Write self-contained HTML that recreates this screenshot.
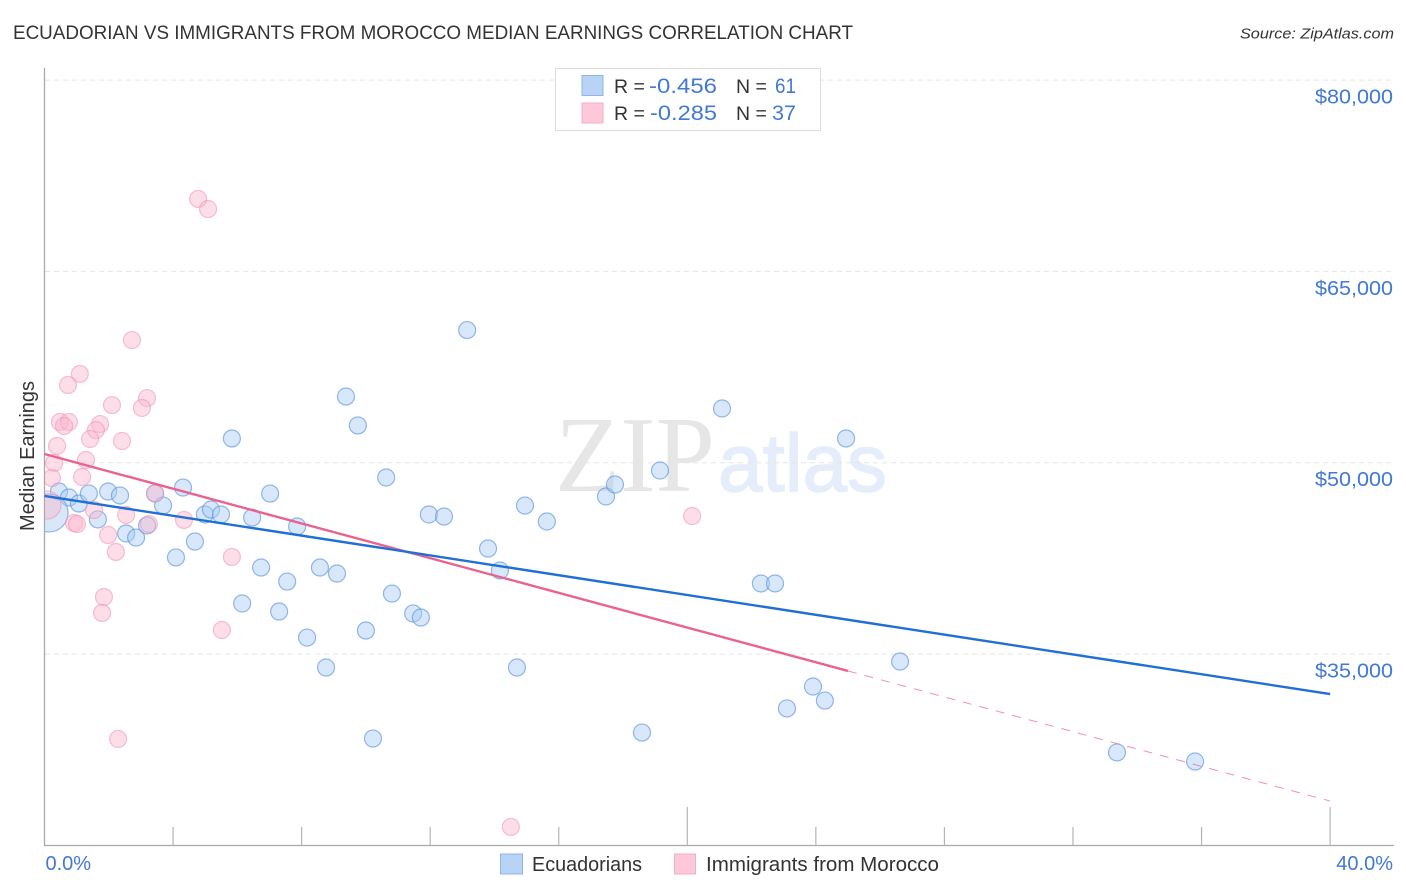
<!DOCTYPE html>
<html lang="en">
<head>
<meta charset="utf-8">
<title>Ecuadorian vs Immigrants from Morocco Median Earnings Correlation Chart</title>
<style>
html,body{margin:0;padding:0;background:#fff;width:1406px;height:892px;overflow:hidden}
svg{display:block;font-family:"Liberation Sans",sans-serif}
</style>
</head>
<body>
<svg id="chart" xmlns="http://www.w3.org/2000/svg" width="1406" height="892" viewBox="0 0 1406 892">
  <defs><clipPath id="plot-clip"><rect x="45" y="60" width="1350" height="785"/></clipPath></defs>
  <text x="13" y="39" font-size="19" fill="#333" textLength="840" lengthAdjust="spacingAndGlyphs">ECUADORIAN VS IMMIGRANTS FROM MOROCCO MEDIAN EARNINGS CORRELATION CHART</text>
  <text x="1394" y="38.5" font-size="15" font-style="italic" fill="#333" text-anchor="end" textLength="154" lengthAdjust="spacingAndGlyphs">Source: ZipAtlas.com</text>
  <g id="watermark">
    <text x="555" y="491" font-family="'Liberation Serif',serif" font-size="108" fill="#e6e6e6" textLength="160" lengthAdjust="spacingAndGlyphs">ZIP</text>
    <text x="718" y="491" font-size="82" fill="#e4edf9" stroke="#e4edf9" stroke-width="1.5" textLength="169" lengthAdjust="spacingAndGlyphs">atlas</text>
  </g>
  <g id="grid"></g>
  <g id="axes"></g>
  <g id="points" clip-path="url(#plot-clip)"></g>
  <g id="trends"></g>
  <g id="labels"></g>
  <g>
    <rect x="555.5" y="68.5" width="265" height="62" fill="#fff" stroke="#dcdcdc" stroke-width="1"/>
    <rect x="582" y="75.5" width="21" height="20" fill="#b9d3f7" stroke="#8fb5e8" stroke-width="1"/>
    <rect x="582" y="103" width="21" height="20" fill="#fdc9d9" stroke="#f3adc3" stroke-width="1"/>
    <text x="614" y="93" font-size="19.5" fill="#333">R =</text>
    <text x="649" y="93" font-size="21.5" fill="#4179d4" textLength="68" lengthAdjust="spacingAndGlyphs">-0.456</text>
    <text x="736" y="93" font-size="19.5" fill="#333">N =</text>
    <text x="775" y="93" font-size="21.5" fill="#4179d4" textLength="21" lengthAdjust="spacingAndGlyphs">61</text>
    <text x="614" y="120" font-size="19.5" fill="#333">R =</text>
    <text x="650" y="120" font-size="21.5" fill="#4179d4" textLength="67" lengthAdjust="spacingAndGlyphs">-0.285</text>
    <text x="736" y="120" font-size="19.5" fill="#333">N =</text>
    <text x="772" y="120" font-size="21.5" fill="#4179d4" textLength="24" lengthAdjust="spacingAndGlyphs">37</text>
  </g>
  <g>
    <rect x="500.5" y="854" width="22" height="20" fill="#b9d3f7" stroke="#8fb5e8" stroke-width="1"/>
    <text x="532" y="871" font-size="20" fill="#333" textLength="110" lengthAdjust="spacingAndGlyphs">Ecuadorians</text>
    <rect x="674.5" y="854" width="21" height="20" fill="#fdc9d9" stroke="#f3adc3" stroke-width="1"/>
    <text x="706" y="871" font-size="20" fill="#333" textLength="233" lengthAdjust="spacingAndGlyphs">Immigrants from Morocco</text>
  </g>
  <text transform="translate(34,456) rotate(-90)" font-size="20" fill="#333" text-anchor="middle" textLength="150" lengthAdjust="spacingAndGlyphs">Median Earnings</text>
</svg>
<script>
const yTicks = [35000, 50000, 65000, 80000];
const yTickLabels = ["$35,000", "$50,000", "$65,000", "$80,000"];
const xTicks = [0, 4, 8, 12, 16, 20, 24, 28, 32, 36, 40];
const xMajorTicks = [20, 40];
const xEdgeValues = [0, 40];
const xEdgeLabels = ["0.0%", "40.0%"];

const blueX = [0.45,0.76,1.07,1.38,1.66,1.98,2.35,2.54,2.85,3.19,3.44,3.69,4.09,4.31,4.68,4.99,5.18,5.49,5.83,6.15,6.46,6.74,7.02,7.30,7.55,7.86,8.17,8.57,8.76,9.10,9.38,9.75,10.00,10.22,10.63,10.81,11.47,11.71,11.96,12.43,13.15,13.80,14.17,14.70,14.95,15.63,17.47,17.75,18.59,19.15,21.08,22.29,22.73,23.10,23.91,24.28,24.94,26.62,33.37,35.80,0.14];
const blueV = [47740,47270,46800,47580,45550,47740,47430,44450,44130,45080,47580,46640,42570,48050,43820,45940,46330,45940,51900,38960,45700,41780,47580,38330,40680,45000,36290,41780,33940,41310,55190,52920,36840,28370,48840,39740,38180,37860,45940,45780,60400,43270,41550,33940,46640,45390,47350,48290,28840,49390,54250,40530,40530,30730,32450,31350,51900,34410,27280,26570,46060];
const blueWeight = [1,1,1,1,1,1,1,1,1,1,1,1,1,1,1,1,1,1,1,1,1,1,1,1,1,1,1,1,1,1,1,1,1,1,1,1,1,1,1,1,1,1,1,1,1,1,1,1,1,1,1,1,1,1,1,1,1,1,1,1,5];

const pinkX = [4.78,5.09,2.72,1.10,0.73,3.19,2.10,3.03,0.48,0.76,0.61,1.73,1.60,1.42,2.41,0.39,0.30,1.29,0.23,1.17,3.44,0.08,1.54,2.54,0.92,1.01,3.25,4.34,1.98,2.22,5.83,5.52,1.85,1.79,2.29,20.15,14.51];
const pinkV = [70680,69890,59620,56960,56090,55070,54520,54290,53190,53190,52880,53030,52560,51860,51700,51310,49980,50210,48800,48880,47620,46680,46290,45900,45270,45190,45190,45510,44330,43000,42610,36880,39470,38220,28340,45820,21440];
const pinkWeight = [1,1,1,1,1,1,1,1,1,1,1,1,1,1,1,1,1,1,1,1,1,2.7,1,1,1,1,1,1,1,1,1,1,1,1,1,1,1];

const blueTrendX = [0, 40];
const blueTrendV = [47390, 31860];
const pinkTrendX = [0, 25];
const pinkTrendV = [50680, 33670];
const pinkDashX = [25, 40];
const pinkDashV = [33670, 23470];

const NS = "http://www.w3.org/2000/svg";
function xScale(p) { return 44.5 + p * 32.14; }
function yScale(v) { return 654 - (v - 35000) * 191.3 / 15000; }
function make(tag, attrs, parent) {
  const el = document.createElementNS(NS, tag);
  for (const k in attrs) el.setAttribute(k, attrs[k]);
  parent.appendChild(el);
  return el;
}
const gridG = document.getElementById("grid");
const axesG = document.getElementById("axes");
const pointsG = document.getElementById("points");
const trendsG = document.getElementById("trends");
const labelsG = document.getElementById("labels");

yTicks.forEach(function (v, i) {
  const line = make("line", {x1: 45, x2: 1393, y1: yScale(v), y2: yScale(v), stroke: "#e5e5e5", "stroke-width": 1, "stroke-dasharray": "5 4"}, gridG);
  
  
  const t = make("text", {x: 1393, y: yScale(v) + 23.5, "font-size": 20, fill: "#4179d4", "text-anchor": "end", textLength: 78, lengthAdjust: "spacingAndGlyphs"}, labelsG);
  t.textContent = yTickLabels[i];
  
  
});

const yAxis = make("line", {x1: 44.5, x2: 44.5, y1: 68, y2: 846, stroke: "#a9a9a9", "stroke-width": 1.3}, axesG);


const xAxis = make("line", {x1: 44, x2: 1394, y1: 845.5, y2: 845.5, stroke: "#a9a9a9", "stroke-width": 1.3}, axesG);


xTicks.forEach(function (p) {
  if (p === 0) return;
  const major = xMajorTicks.indexOf(p) >= 0;
  const tick = make("line", {x1: xScale(p), x2: xScale(p), y1: major ? 807 : 827, y2: 845, stroke: "#b5b5b5", "stroke-width": 1.2}, axesG);
  
  
});
xEdgeValues.forEach(function (p, i) {
  const t = make("text", {x: i === 0 ? xScale(p) + 1 : 1393, y: 870, "font-size": 20, fill: "#4179d4", "text-anchor": i === 0 ? "start" : "end"}, labelsG);
  t.textContent = xEdgeLabels[i];
  
  
});

blueX.forEach(function (p, i) {
  const c = make("circle", {cx: xScale(p), cy: yScale(blueV[i]), r: 8.5 * Math.sqrt(blueWeight[i]), fill: "#a9cbf5", "fill-opacity": 0.45, stroke: "#5b93dd", "stroke-opacity": 0.65, "stroke-width": 1.2}, pointsG);
  
  
});
pinkX.forEach(function (p, i) {
  const c = make("circle", {cx: xScale(p), cy: yScale(pinkV[i]), r: 8.5 * Math.sqrt(pinkWeight[i]), fill: "#fbb6cb", "fill-opacity": 0.45, stroke: "#ee8fae", "stroke-opacity": 0.55, "stroke-width": 1.2}, pointsG);
  
  
});

const pinkDash = make("line", {x1: xScale(pinkDashX[0]), y1: yScale(pinkDashV[0]), x2: xScale(pinkDashX[1]), y2: yScale(pinkDashV[1]), stroke: "#ea6a97", "stroke-width": 1, "stroke-dasharray": "9 8", "stroke-opacity": 0.75}, trendsG);


const pinkTrend = make("line", {x1: xScale(pinkTrendX[0]), y1: yScale(pinkTrendV[0]), x2: xScale(pinkTrendX[1]), y2: yScale(pinkTrendV[1]), stroke: "#e8648f", "stroke-width": 2.4}, trendsG);


const blueTrend = make("line", {x1: xScale(blueTrendX[0]), y1: yScale(blueTrendV[0]), x2: xScale(blueTrendX[1]), y2: yScale(blueTrendV[1]), stroke: "#1f6fd6", "stroke-width": 2.4}, trendsG);


</script>
</body>
</html>
